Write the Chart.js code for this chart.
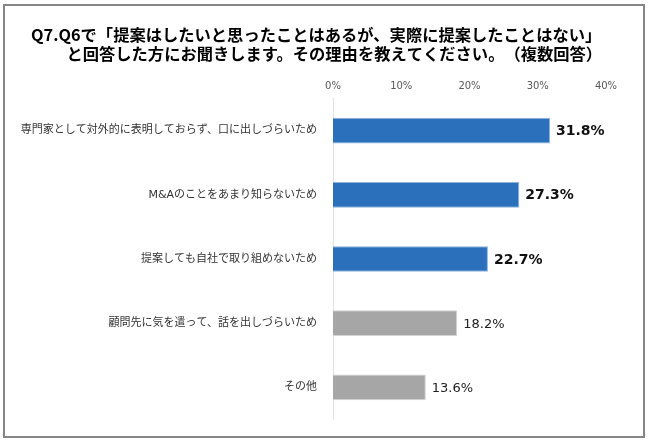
<!DOCTYPE html>
<html>
<head>
<meta charset="utf-8">
<script src="https://cdn.jsdelivr.net/npm/chart.js@4.4.1/dist/chart.umd.min.js"></script>
<style>
  html, body { margin: 0; padding: 0; background: #fff; }
  #wrap { position: relative; width: 650px; height: 442px; }
  #frame {
    position: absolute; left: 3px; top: 4px; width: 638px; height: 430px;
    border: 2px solid #858585; pointer-events: none;
  }
  canvas { position: absolute; left: 0; top: 0; }
</style>
</head>
<body>
<div id="wrap">
  <canvas id="chart" width="650" height="442"></canvas>
  <div id="frame"></div>
</div>
<script>
// --- data ---
const TITLE_LINES = [
  "　Q7.Q6で「提案はしたいと思ったことはあるが、実際に提案したことはない」",
  "　　　 と回答した方にお聞きします。その理由を教えてください。　（複数回答）",
];
const CATEGORIES = [
  "専門家として対外的に表明しておらず、口に出しづらいため",
  "M&Aのことをあまり知らないため",
  "提案しても自社で取り組めないため",
  "顧問先に気を遣って、話を出しづらいため",
  "その他",
];
const VALUES = [31.8, 27.3, 22.7, 18.2, 13.6];
const X_TICKS = [0, 10, 20, 30, 40];

// --- style ---
const FONT = '"DejaVu Sans", "Noto Sans CJK JP", sans-serif';
const TITLE_FONT = '"Noto Sans CJK JP", "DejaVu Sans", sans-serif';
const TOP_COUNT = 3;
const COLORS = {
  TOP_FILL: "#2B70BA",
  TOP_EDGE: "#8DB3E0",
  REST_FILL: "#A6A6A6",
  REST_EDGE: "#D3D3D3",
};

function isTop(i) {
  return i < TOP_COUNT;
}

const valueLabels = {
  id: "valueLabels",
  afterDatasetsDraw(chart) {
    const ctx = chart.ctx;
    const meta = chart.getDatasetMeta(0);
    ctx.save();
    ctx.textAlign = "left";
    ctx.textBaseline = "middle";
    meta.data.forEach((bar, i) => {
      const top = isTop(i);
      ctx.font = top ? `bold 14px ${FONT}` : `13px ${FONT}`;
      ctx.fillStyle = top ? "#111" : "#222";
      ctx.fillText(VALUES[i].toFixed(1) + "%", bar.x + 6, bar.y + 1);
    });
    ctx.restore();
  },
};

new Chart(document.getElementById("chart"), {
  type: "bar",
  data: {
    labels: CATEGORIES,
    datasets: [
      {
        data: VALUES,
        backgroundColor: VALUES.map((v, i) => (isTop(i) ? COLORS.TOP_FILL : COLORS.REST_FILL)),
        borderColor: VALUES.map((v, i) => (isTop(i) ? COLORS.TOP_EDGE : COLORS.REST_EDGE)),
        borderWidth: 1,
        barPercentage: 0.4,
        categoryPercentage: 1,
      },
    ],
  },
  options: {
    indexAxis: "y",
    responsive: false,
    animation: false,
    layout: { padding: { left: 10, right: 44, top: 26, bottom: 19.5 } },
    plugins: {
      legend: { display: false },
      tooltip: { enabled: false },
      title: {
        display: true,
        text: TITLE_LINES,
        color: "#000",
        font: { family: TITLE_FONT, size: 16.3, weight: "bold", lineHeight: 1.13 },
        padding: { top: 0, bottom: 7 },
      },
    },
    scales: {
      x: {
        position: "top",
        min: 0,
        max: 40,
        afterBuildTicks(scale) {
          scale.ticks = X_TICKS.map((v) => ({ value: v }));
        },
        afterFit(scale) {
          scale.height = 28.7;
        },
        grid: { display: false, drawTicks: false },
        border: { display: false },
        ticks: {
          padding: 6.5,
          color: "#595959",
          font: { family: FONT, size: 10, lineHeight: 1.2 },
          callback: (v) => v + "%",
        },
      },
      y: {
        afterFit(scale) {
          scale.width = 323;
        },
        grid: { display: false, drawTicks: false },
        border: { display: true, color: "#E2E2E2", width: 1 },
        ticks: {
          padding: 16,
          color: "#333",
          font: { family: FONT, size: 11 },
        },
      },
    },
  },
  plugins: [valueLabels],
});
</script>
</body>
</html>
